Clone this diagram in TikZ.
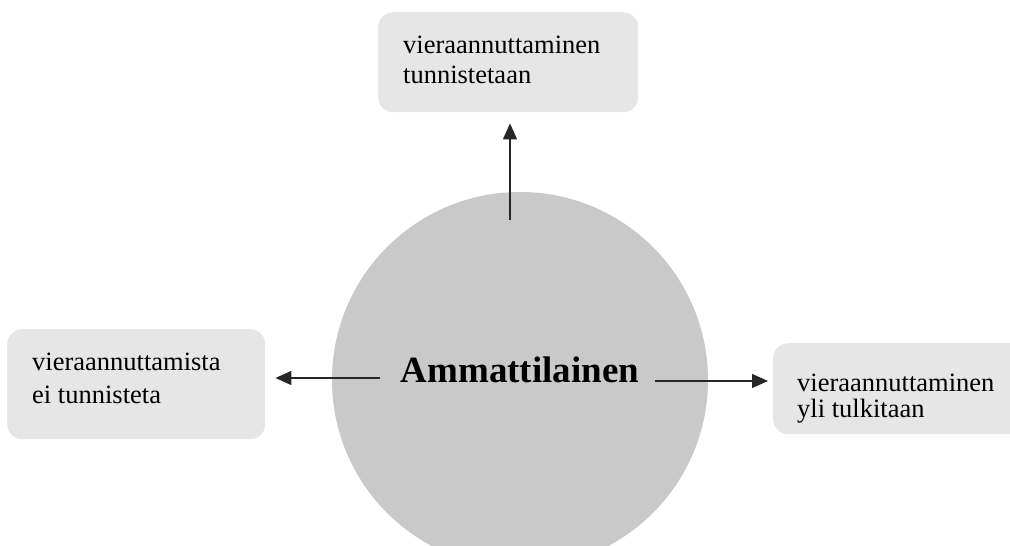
\documentclass[tikz,border=0pt]{standalone}
\usepackage{fontspec}
\setmainfont{Liberation Serif}
\usetikzlibrary{arrows.meta}
\definecolor{circgray}{HTML}{C9C9C9}
\definecolor{boxgray}{HTML}{E7E6E6}
\begin{document}
\begin{tikzpicture}[x=1pt,y=-1pt,
  box/.style={fill=boxgray, rounded corners=15pt, inner sep=0pt, anchor=north west},
  lbl/.style={align=left, inner sep=0pt, anchor=base west},
  arr/.style={draw=black!85, line width=1.2pt, -{Triangle[length=16pt,width=14pt]}}]
\useasboundingbox (0,0) rectangle (1010,546);
\clip (0,0) rectangle (1010,546);
\node[circle, fill=circgray, minimum size=376pt, inner sep=0pt] (c) at (520,380) {};
\node[font=\bfseries\fontsize{37}{40}\selectfont, anchor=base, inner sep=0pt] (title) at (520,382) {Ammattilainen};
\node[box, minimum width=260pt, minimum height=100pt] (top) at (378,12) {};
\node[box, minimum width=258pt, minimum height=110pt] (left) at (7,329) {};
\node[box, minimum width=267pt, minimum height=91pt] (right) at (773,343) {};
\node[lbl, font=\fontsize{26.5}{30}\selectfont] (toptext) at (403,83) {vieraannuttaminen\\tunnistetaan};
\node[lbl, font=\fontsize{26.5}{32.7}\selectfont] (lefttext) at (32,403) {vieraannuttamista\\ei tunnisteta};
\node[lbl, font=\fontsize{26.5}{25.7}\selectfont] (righttext) at (797,417) {vieraannuttaminen\\yli tulkitaan};
\coordinate (ta) at (510,220);
\coordinate (la) at (380,378);
\coordinate (ra) at (655,381);
\draw[arr, shorten >=11pt] (ta) -- (ta |- top.south);
\draw[arr, shorten >=10pt] (la) -- (la -| left.east);
\draw[arr, shorten >=5pt] (ra) -- (ra -| right.west);
\end{tikzpicture}
\end{document}
